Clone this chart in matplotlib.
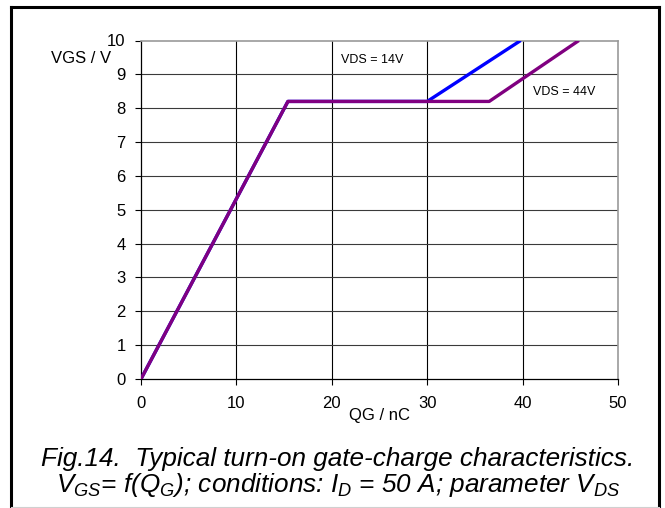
import matplotlib
matplotlib.use("Agg")
import matplotlib.pyplot as plt
from matplotlib.lines import Line2D

plt.rcParams["font.family"] = ["Liberation Sans", "DejaVu Sans"]
plt.rcParams["mathtext.default"] = "regular"

# curve break points (QG in nC, VGS in V)
qg_14v = [0, 15.4, 30.0, 39.8]
vgs_14v = [0, 8.2, 8.2, 10.0]
qg_44v = [0, 15.4, 36.5, 45.9]
vgs_44v = [0, 8.2, 8.2, 10.0]

x_ticks = [0, 10, 20, 30, 40, 50]
y_ticks = [0, 1, 2, 3, 4, 5, 6, 7, 8, 9, 10]

W, H = 665, 508
fig = plt.figure(figsize=(W / 100, H / 100), dpi=100)
ax = fig.add_axes([141 / W, 1 - 379 / H, 477 / W, 338.5 / H])

# grid
for x in x_ticks[1:-1]:
    ax.axvline(x, color="black", lw=0.8, zorder=1)
for y in y_ticks[1:-1]:
    ax.axhline(y, color="#3a3a3a", lw=0.8, zorder=1)

ax.plot(qg_14v, vgs_14v, color="#0000ff", lw=2.4, solid_capstyle="butt", zorder=3)
ax.plot(qg_44v, vgs_44v, color="#800080", lw=2.4, solid_capstyle="butt", zorder=4)

ax.set_xlim(0, 50)
ax.set_ylim(0, 10)
ax.set_xticks(x_ticks)
ax.set_yticks(y_ticks)
ax.tick_params(axis="both", direction="out", length=4, width=0.8, labelsize=12)
ax.tick_params(axis="x", pad=8)
ax.tick_params(axis="y", pad=7)

for side in ["top", "right"]:
    ax.spines[side].set_color("#999999")
    ax.spines[side].set_linewidth(1.2)
for side in ["left", "bottom"]:
    ax.spines[side].set_color("black")
    ax.spines[side].set_linewidth(0.9)

ax.text(-0.063, 0.946, "VGS / V", transform=ax.transAxes, ha="right", va="center", fontsize=12)
ax.text(0.5, -0.108, "QG / nC", transform=ax.transAxes, ha="center", va="center", fontsize=12)

ax.text(21, 9.41, "VDS = 14V", ha="left", va="center", fontsize=9)
ax.text(41.1, 8.49, "VDS = 44V", ha="left", va="center", fontsize=9)

# caption
fig.text(338 / W, 1 - 459 / H, "Fig.14.  Typical turn-on gate-charge characteristics.",
         ha="center", va="center", fontsize=18.8, style="italic")
fig.text(338 / W, 1 - 485 / H,
         r"$V_{GS}$= f(Q$_G$); conditions: I$_D$ = 50 A; parameter V$_{DS}$",
         ha="center", va="center", fontsize=18.8, style="italic")

# frame round the figure
fig.add_artist(Line2D([11 / W, 11 / W], [0, 1 - 6.5 / H], transform=fig.transFigure,
                      color="black", lw=2.2))
fig.add_artist(Line2D([11 / W, 659 / W], [1 - 6.5 / H, 1 - 6.5 / H], transform=fig.transFigure,
                      color="black", lw=2.2))
fig.add_artist(Line2D([659 / W, 659 / W], [0, 1 - 6.5 / H], transform=fig.transFigure,
                      color="black", lw=2.2))
fig.add_artist(Line2D([11 / W, 659 / W], [1.5 / H, 1.5 / H], transform=fig.transFigure,
                      color="#d0d0d0", lw=0.8))

fig.savefig("out.png", dpi=100)
